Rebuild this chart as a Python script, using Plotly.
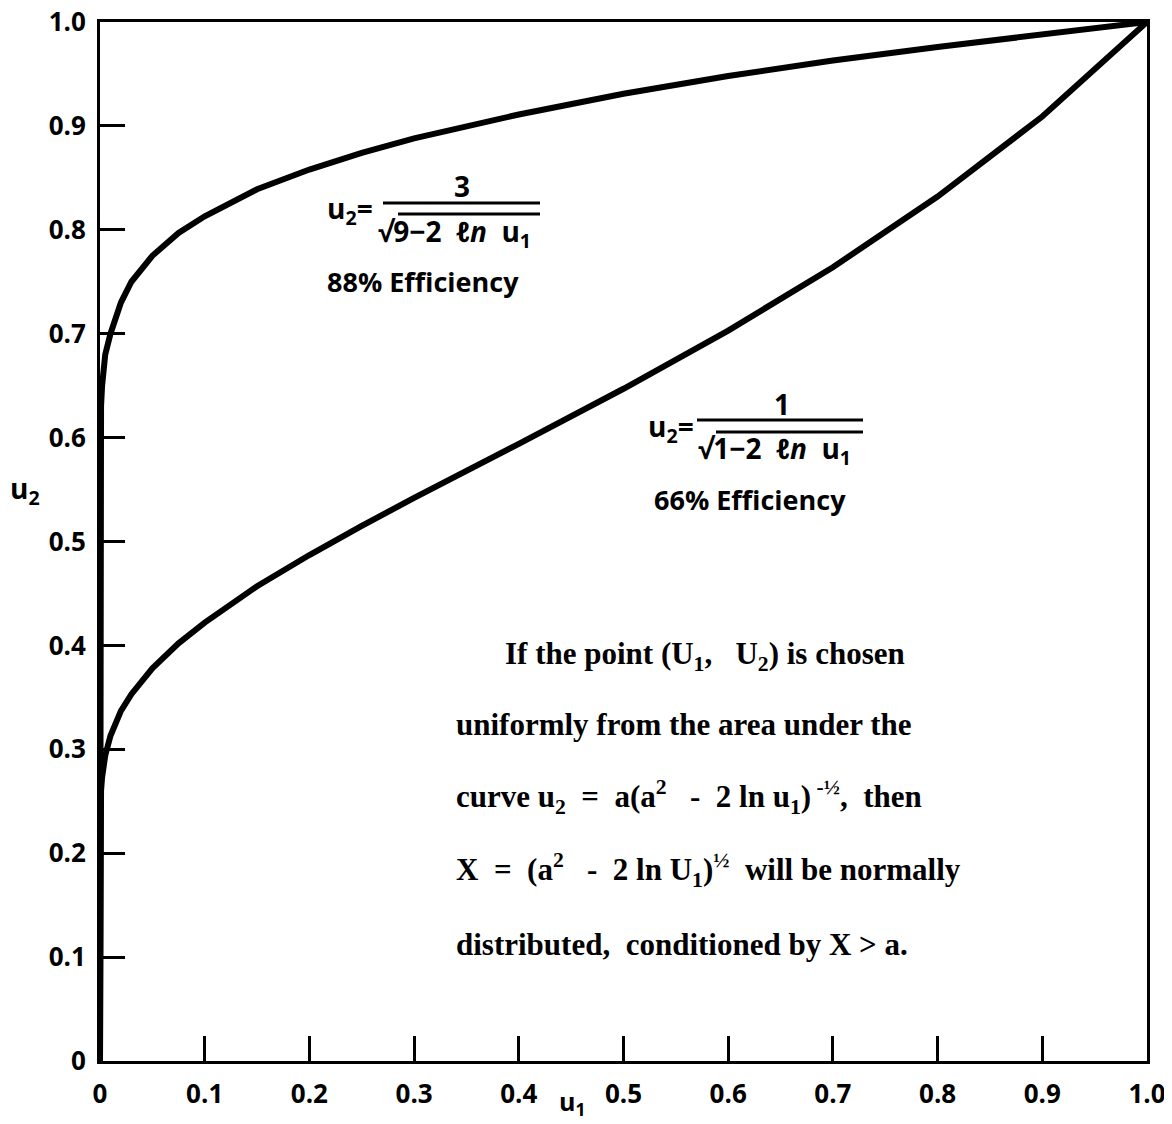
import plotly.graph_objects as go

# ---- data ----
u1_pts = [0.0, 0.0005, 0.001, 0.002, 0.005, 0.01, 0.02, 0.03, 0.05, 0.075,
          0.1, 0.15, 0.2, 0.25, 0.3, 0.4, 0.5, 0.6, 0.7, 0.8, 0.9, 1.0]
u2_eff88 = [0.0, 0.61, 0.63, 0.65, 0.68, 0.70, 0.73, 0.75, 0.775, 0.797,
            0.813, 0.839, 0.858, 0.874, 0.888, 0.911, 0.931, 0.948, 0.963, 0.976, 0.988, 1.0]
u2_eff66 = [0.0, 0.25, 0.26, 0.273, 0.294, 0.313, 0.337, 0.353, 0.378, 0.402,
            0.422, 0.457, 0.487, 0.515, 0.542, 0.594, 0.647, 0.703, 0.764, 0.832, 0.909, 1.0]

tick_vals = [0.0, 0.1, 0.2, 0.3, 0.4, 0.5, 0.6, 0.7, 0.8, 0.9, 1.0]
tick_text = ["0", "0.1", "0.2", "0.3", "0.4", "0.5", "0.6", "0.7", "0.8", "0.9", "1.0"]

OFF = 8  # page body margin
W, H = 1172 - OFF, 1124 - OFF
L, R, T, B = 100, 1147, 22, 1061  # screen pixels of plot area


def dx(p):
    return (p - L) / (R - L)


def dy(p):
    return (B - p) / (B - T)


SANS = "Open Sans"
SERIF = "Liberation Serif"

fig = go.Figure()
for ys in (u2_eff88, u2_eff66):
    fig.add_trace(go.Scatter(x=u1_pts, y=ys, mode="lines",
                             line=dict(color="black", width=6),
                             showlegend=False, hoverinfo="skip"))

axis_common = dict(range=[0, 1], tickvals=tick_vals, ticktext=tick_text,
                   ticks="inside", ticklen=25, tickwidth=2.5, tickcolor="black",
                   showline=True, linecolor="black", linewidth=3, mirror=True,
                   showgrid=False, zeroline=False, ticklabeloverflow="allow",
                   automargin=False,
                   tickfont=dict(family=SANS, size=26, color="black", weight="bold"))

fig.update_xaxes(**axis_common, ticklabelstandoff=8)
fig.update_yaxes(**axis_common, ticklabelstandoff=6)

ann = []


def txt(text, x, y, size=24, family=SANS, xanchor="center", weight="bold"):
    ann.append(dict(text=text, x=dx(x), y=dy(y), xref="paper", yref="paper",
                    xanchor=xanchor, yanchor="middle", showarrow=False,
                    font=dict(family=family, size=size, color="black", weight=weight)))


# axis titles
txt("u<sub>2</sub>", 25, 490, size=28)
txt("u<sub>1</sub>", 572, 1102, size=25)

# formula 1
txt("u<sub>2</sub>=", 375, 210, size=28, xanchor="right")
txt("3", 462, 186, size=28)
txt("√9−2  <i>ℓn</i>  u<sub>1</sub>", 376, 233, size=28, xanchor="left")
txt("88% Efficiency", 423, 282, size=27)

# formula 2
txt("u<sub>2</sub>=", 696, 428, size=28, xanchor="right")
txt("1", 782, 404, size=28)
txt("√1−2  <i>ℓn</i>  u<sub>1</sub>", 696, 450, size=28, xanchor="left")
txt("66% Efficiency", 750, 499, size=27)

shapes = []


def hline(x0, x1, y, w=3):
    shapes.append(dict(type="line", xref="paper", yref="paper", x0=dx(x0), x1=dx(x1),
                       y0=dy(y), y1=dy(y), line=dict(color="black", width=w)))


hline(383, 540, 203)
hline(398, 540, 214)
hline(697, 863, 420)
hline(716, 863, 432)

# paragraph
para = [
    ("If the point (U<sub>1</sub>,   U<sub>2</sub>) is chosen", 503, 656),
    ("uniformly from the area under the", 454, 724),
    ("curve u<sub>2</sub>  =  a(a<sup>2</sup>   -  2 ln u<sub>1</sub>)<sup> -½</sup>,  then", 454, 797),
    ("X  =  (a<sup>2</sup>   -  2 ln U<sub>1</sub>)<sup>½</sup>  will be normally", 454, 870),
    ("distributed,  conditioned by X > a.", 454, 944),
]
for t, x, y in para:
    txt(t, x, y, size=31, family=SERIF, xanchor="left")

fig.update_layout(width=W, height=H,
                  margin=dict(l=L - OFF, r=W - (R - OFF), t=T - OFF, b=H - (B - OFF),
                              autoexpand=False),
                  plot_bgcolor="white", paper_bgcolor="white",
                  annotations=ann, shapes=shapes, showlegend=False)

fig.write_html("out.html")
